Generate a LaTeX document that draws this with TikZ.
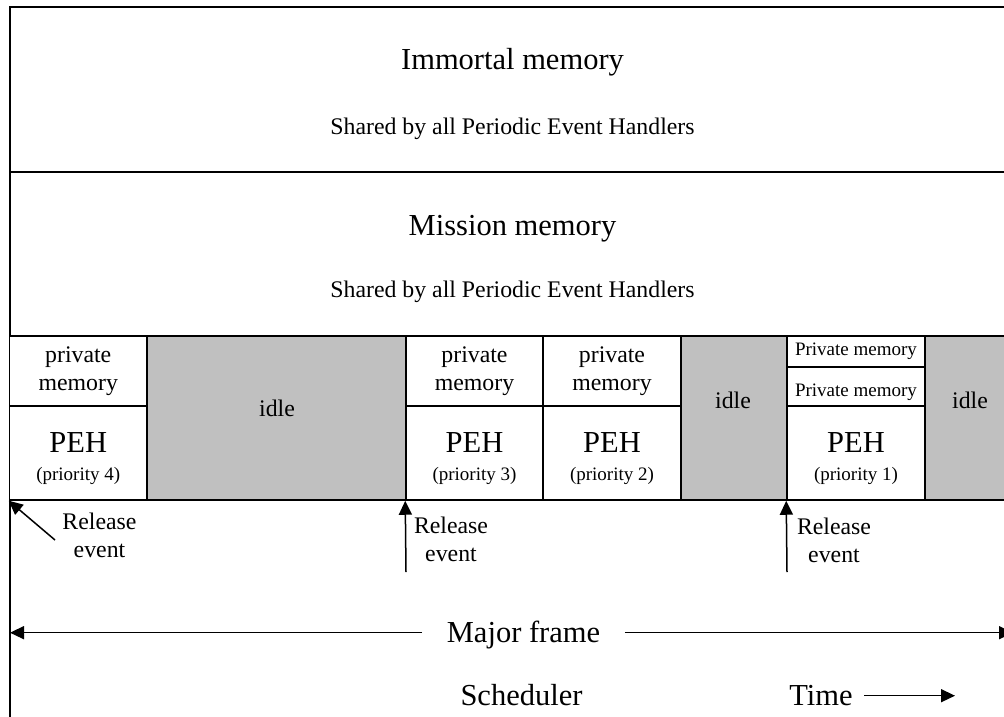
\documentclass[tikz,border=0pt]{standalone}
\usepackage{fontspec}
\setmainfont{Liberation Serif}
\usetikzlibrary{arrows.meta}
\definecolor{idlegray}{HTML}{C0C0C0}
\newcommand{\fntbig}{\fontsize{30.5}{36}\selectfont}
\newcommand{\fntmid}{\fontsize{23.8}{28}\selectfont}
\newcommand{\fntsmall}{\fontsize{19}{28}\selectfont}
\begin{document}
\begin{tikzpicture}[x=1pt, y=-1pt, line width=1.5pt,
  cell/.style={draw, fill=white, inner sep=0pt},
  idlecell/.style={cell, fill=idlegray},
  txt/.style={anchor=base, inner sep=0pt},
  lbl/.style={inner sep=0pt, align=center},
  tip/.style={-{Triangle[length=14pt,width=13pt]}}]
\useasboundingbox (0,0) rectangle (1004,717);
% outer frame and memory areas
\draw[line width=2pt] (1004,7) -- (9.5,7) -- (9.5,717);
\draw (9.5,172) -- (1004,172);
\node[txt, font=\fntbig] (imm) at (512.5,70) {Immortal memory};
\node[txt, font=\fntmid] (immshared) at (512.5,134) {Shared by all Periodic Event Handlers};
\node[txt, font=\fntbig] (mis) at (512.5,235) {Mission memory};
\node[txt, font=\fntmid] (misshared) at (512.5,297.5) {Shared by all Periodic Event Handlers};
% handlers and idle time
\node[cell, minimum width=137.5pt, minimum height=70pt] (pm4) at (78.25,371) {};
\node[cell, minimum width=137.5pt, minimum height=94pt] (peh4) at (78.25,453) {};
\node[idlecell, minimum width=259pt, minimum height=164pt] (idleA) at (276.5,418) {};
\node[cell, minimum width=137pt, minimum height=70pt] (pm3) at (474.5,371) {};
\node[cell, minimum width=137pt, minimum height=94pt] (peh3) at (474.5,453) {};
\node[cell, minimum width=138pt, minimum height=70pt] (pm2) at (612,371) {};
\node[cell, minimum width=138pt, minimum height=94pt] (peh2) at (612,453) {};
\node[idlecell, minimum width=106pt, minimum height=164pt] (idleB) at (734,418) {};
\node[cell, minimum width=138pt, minimum height=31pt] (pmA1) at (856,351.5) {};
\node[cell, minimum width=138pt, minimum height=39pt] (pmB1) at (856,386.5) {};
\node[cell, minimum width=138pt, minimum height=94pt] (peh1) at (856,453) {};
\node[idlecell, minimum width=85pt, minimum height=164pt] (idleC) at (967.5,418) {};
\node[lbl, font=\fntmid] (pm4t) at (pm4.center) {private\\memory};
\node[lbl, font=\fntmid] (pm3t) at (pm3.center) {private\\memory};
\node[lbl, font=\fntmid] (pm2t) at (pm2.center) {private\\memory};
\node[txt, font=\fntsmall] (pmA1t) at (856,355) {Private memory};
\node[txt, font=\fntsmall] (pmB1t) at (856,396.5) {Private memory};
\node[lbl, font=\fntsmall] (peh4t) at (78.25,459) {{\fntbig PEH}\\(priority 4)};
\node[lbl, font=\fntsmall] (peh3t) at (474.5,459) {{\fntbig PEH}\\(priority 3)};
\node[lbl, font=\fntsmall] (peh2t) at (612,459) {{\fntbig PEH}\\(priority 2)};
\node[lbl, font=\fntsmall] (peh1t) at (856,459) {{\fntbig PEH}\\(priority 1)};
\node[txt, font=\fntmid] (idleAt) at (277,416) {idle};
\node[txt, font=\fntmid] (idleBt) at (733,408) {idle};
\node[txt, font=\fntmid] (idleCt) at (970,408) {idle};
% release events
\coordinate (rel4tail) at (55,540);
\coordinate (rel3tail) at (406,572);
\coordinate (rel1tail) at (787,572);
\draw[tip] (rel4tail) -- (peh4.south west);
\draw[tip] (rel3tail) -- (peh3.south west);
\draw[tip] (rel1tail) -- (peh1.south west);
\node[lbl, font=\fntmid] (rel4) at (99.5,535) {Release\\event};
\node[lbl, font=\fntmid] (rel3) at (451,539) {Release\\event};
\node[lbl, font=\fntmid] (rel1) at (834,540) {Release\\event};
% major frame and scheduler
\node[txt, font=\fntbig, inner xsep=24pt] (major) at (523.5,642) {Major frame};
\coordinate (mfL) at (10,632.7);
\coordinate (mfR) at (1013,632.7);
\draw[tip] (mfL -| major.west) -- (mfL);
\draw[tip] (mfL -| major.east) -- (mfR);
\node[txt, font=\fntbig] (sched) at (521.5,705) {Scheduler};
\node[txt, font=\fntbig, inner xsep=11pt] (time) at (821,705) {Time};
\coordinate (timeEnd) at (955,695.7);
\draw[tip] (timeEnd -| time.east) -- (timeEnd);
\end{tikzpicture}
\end{document}
